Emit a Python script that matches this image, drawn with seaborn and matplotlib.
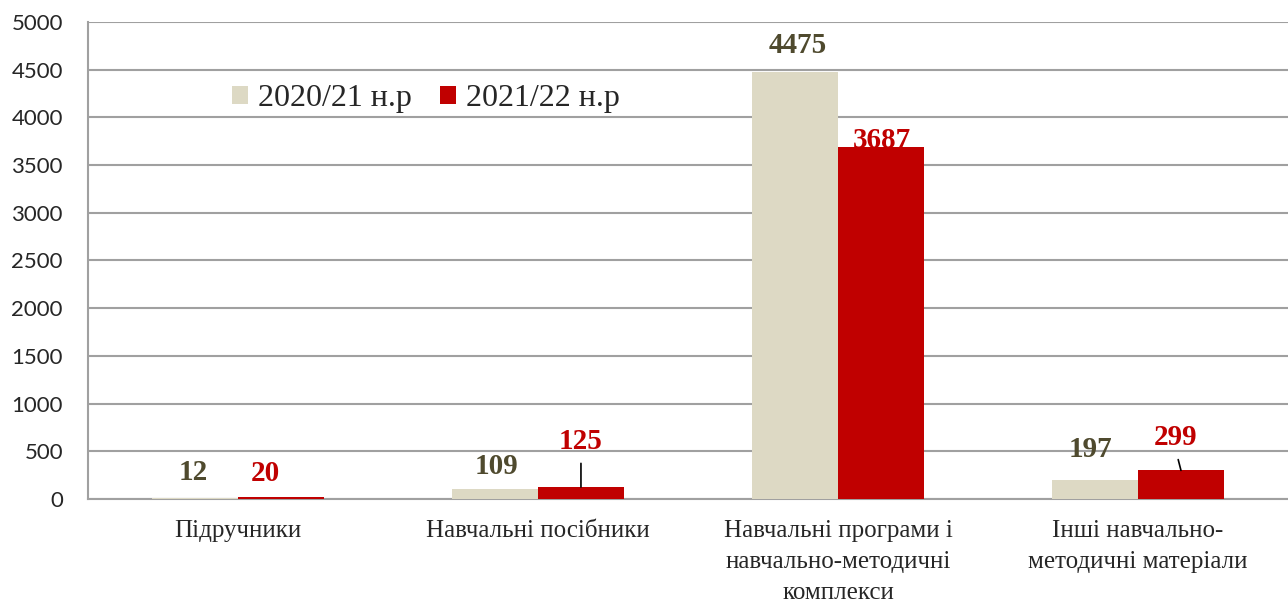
import matplotlib
matplotlib.use("Agg")
import matplotlib.pyplot as plt
import seaborn as sns
import pandas as pd

# data
categories = ["Підручники", "Навчальні посібники",
              "Навчальні програми і\nнавчально-методичні\nкомплекси",
              "Інші навчально-\nметодичні матеріали"]
series = ["2020/21 н.р", "2021/22 н.р"]
values_2020 = [12, 109, 4475, 197]
values_2021 = [20, 125, 3687, 299]
y_ticks = [0, 500, 1000, 1500, 2000, 2500, 3000, 3500, 4000, 4500, 5000]

# label offsets in pixels (dx, dy) from bar top centre, and which get a leader line
offsets_2020 = [(-2, 25), (1, 22), (3, 26), (-5, 31)]
offsets_2021 = [(-16, 24), (0, 46), (1, 7), (-5, 33)]
leaders_2021 = [False, True, False, True]

colors = ["#DDD9C4", "#C00000"]
label_colors = ["#4F4A2E", "#C00000"]
grid_color = "#A0A0A0"

df = pd.DataFrame({
    "cat": categories * 2,
    "series": [series[0]] * 4 + [series[1]] * 4,
    "value": values_2020 + values_2021,
})

sns.set_style("white")
plt.rcParams["font.family"] = ["Liberation Serif", "DejaVu Serif"]

fig = plt.figure(figsize=(12.88, 6.07), dpi=100)
ax = fig.add_axes([0.0683, 0.178, 0.9317, 0.786])

sns.barplot(data=df, x="cat", y="value", hue="series", palette=colors,
            width=0.573, gap=0, saturation=1, linewidth=0, ax=ax, zorder=3,
            legend=True)

ax.set_xlim(-0.5, 3.5)
ax.set_ylim(0, 5000)
ax.set_yticks(y_ticks)
ax.set_xlabel("")
ax.set_ylabel("")
ax.yaxis.grid(True, color=grid_color, linewidth=1.5, zorder=0)
ax.set_axisbelow(True)
for side in ["top", "right"]:
    ax.spines[side].set_visible(False)
for side in ["left", "bottom"]:
    ax.spines[side].set_color(grid_color)
    ax.spines[side].set_linewidth(1.5)

ax.tick_params(axis="both", length=0)
ax.tick_params(axis="y", pad=18)
ax.tick_params(axis="x", pad=15)
for t in ax.get_yticklabels():
    t.set_fontfamily(["Lato", "Liberation Sans", "DejaVu Sans"])
    t.set_fontsize(16)
for t in ax.get_xticklabels():
    t.set_fontsize(18)
    t.set_linespacing(1.55)

# data labels
for cont, offs, col, vals, leads in [
    (ax.containers[0], offsets_2020, label_colors[0], values_2020, [False] * 4),
    (ax.containers[1], offsets_2021, label_colors[1], values_2021, leaders_2021),
]:
    for bar, (dx, dy), v, lead in zip(cont.patches, offs, vals, leads):
        xc = bar.get_x() + bar.get_width() / 2
        kw = {}
        if lead:
            kw["arrowprops"] = dict(arrowstyle="-", color="black", lw=1.2,
                                    relpos=(0.5, 0.0), shrinkA=4, shrinkB=0)
        ax.annotate(str(v), xy=(xc, bar.get_height()), xytext=(dx, dy),
                    textcoords="offset pixels", ha="center", va="center",
                    fontsize=21, fontweight="bold", color=col, zorder=5, **kw)

leg = ax.legend(loc="center left", bbox_to_anchor=(0.12, 0.839), ncol=2,
                frameon=False, fontsize=23, handlelength=0.5, handleheight=0.5,
                handletextpad=0.3, columnspacing=0.9, borderaxespad=0, borderpad=0)

fig.savefig("out.png", dpi=100)
